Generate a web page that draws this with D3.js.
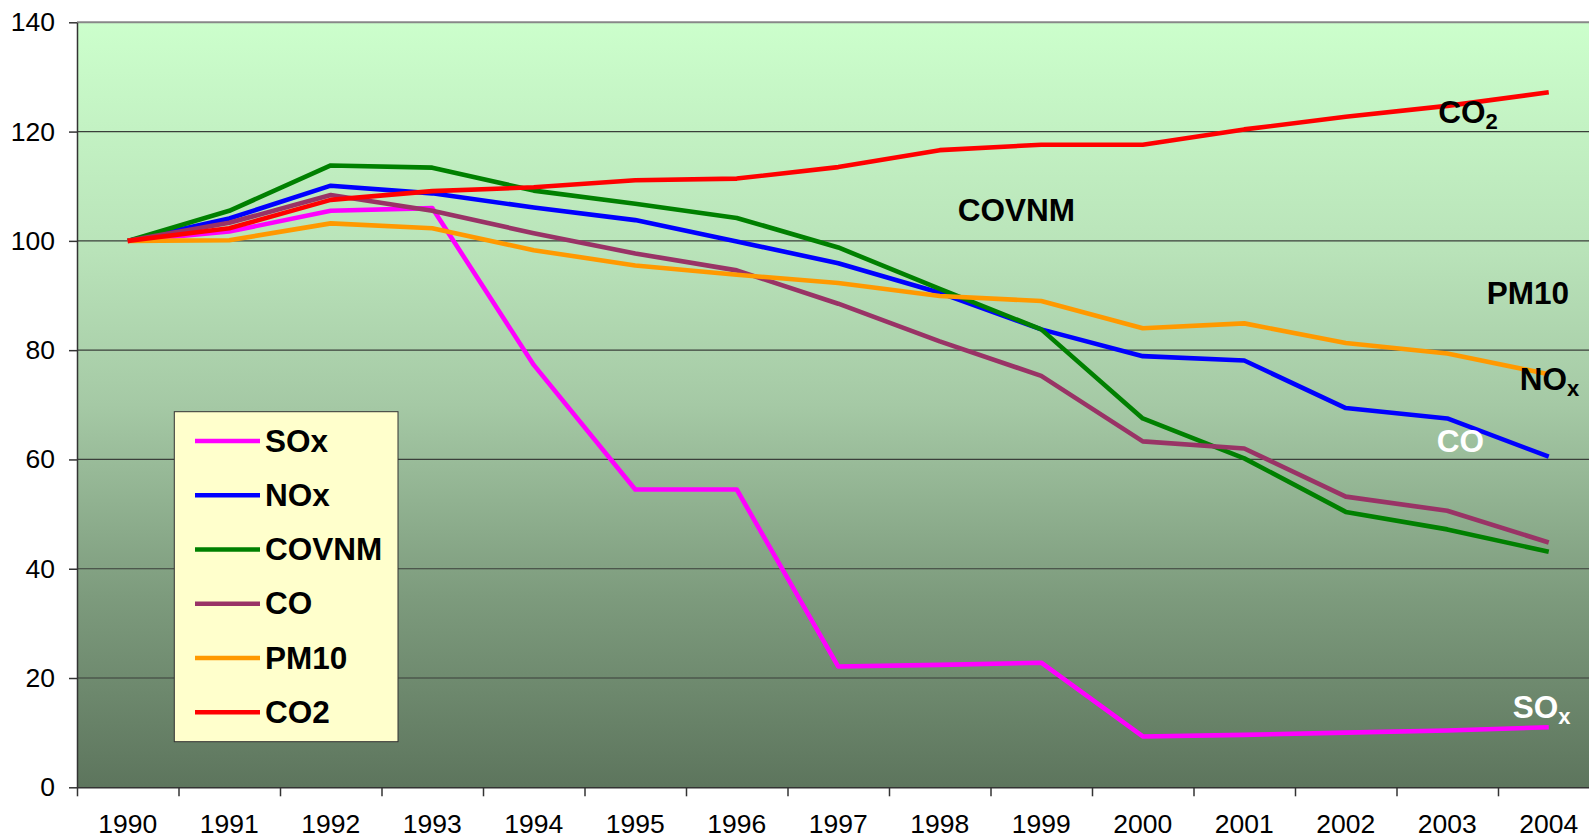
<!DOCTYPE html>
<html>
<head>
<meta charset="utf-8">
<script src="https://cdn.jsdelivr.net/npm/d3@7"></script>
<style>
  html, body { margin: 0; padding: 0; background: #ffffff; }
  svg { display: block; }
  text { font-family: "Liberation Sans", Arial, sans-serif; }
</style>
</head>
<body>
<svg id="chart" width="1589" height="840"></svg>
<script>
// ---- data ----
const years = ["1990","1991","1992","1993","1994","1995","1996","1997","1998","1999","2000","2001","2002","2003","2004"];
const seriesNames = ["SOx","NOx","COVNM","CO","PM10","CO2"];
const seriesColors = ["#ff00ff","#0000ff","#008000","#993366","#ff9900","#ff0000"];
const SOx   = [100, 101.7, 105.5, 106.0, 77.3, 54.5, 54.5, 22.1, 22.4, 22.8, 9.3, 9.6, 10.0, 10.4, 11.0];
const NOx   = [100, 104.1, 110.1, 108.7, 106.1, 103.8, 99.9, 95.9, 90.5, 83.8, 78.9, 78.1, 69.4, 67.5, 60.5];
const COVNM = [100, 105.5, 113.8, 113.4, 109.2, 106.8, 104.2, 98.8, 91.2, 83.8, 67.5, 60.2, 50.4, 47.2, 43.1];
const CO    = [100, 103.3, 108.4, 105.5, 101.4, 97.7, 94.6, 88.5, 81.6, 75.3, 63.3, 62.0, 53.2, 50.6, 44.8];
const PM10  = [100, 100.1, 103.2, 102.3, 98.3, 95.5, 93.8, 92.3, 89.9, 89.0, 84.0, 84.9, 81.3, 79.4, 75.6];
const CO2   = [100, 102.3, 107.5, 109.1, 109.8, 111.1, 111.4, 113.5, 116.6, 117.6, 117.6, 120.4, 122.7, 124.7, 127.2];
const seriesValues = [SOx, NOx, COVNM, CO, PM10, CO2];
const yTicks = [0, 20, 40, 60, 80, 100, 120, 140];

// in-plot labels
const annotations = [
  {text: "CO", sub: "2", year: "2003", value: 121.5, color: "#000000"},
  {text: "COVNM", sub: "", year: "1998", value: 103.7, color: "#000000"},
  {text: "PM10", sub: "", year: "2004", value: 88.4, color: "#000000"},
  {text: "NO", sub: "x", year: "2004", value: 72.8, color: "#000000"},
  {text: "CO", sub: "", year: "2003", value: 61.4, color: "#ffffff"},
  {text: "SO", sub: "x", year: "2004", value: 12.6, color: "#ffffff"}
];
const annotationDx = [-9, 18, -62, -29, -10.5, -36];

// ---- layout ----
const padL = 77, padT = 22.3, padB = 787.3, band = 101.5;
const padR = padL + band * years.length;
const svg = d3.select("#chart");

const x = d3.scaleBand().domain(years).range([padL, padR]).padding(0);
const xc = d => x(d) + x.bandwidth() / 2;
const y = d3.scaleLinear().domain([0, 140]).range([padB, padT]);

// background gradient
const defs = svg.append("defs");
const grad = defs.append("linearGradient").attr("id", "bg").attr("x1", 0).attr("y1", 0).attr("x2", 0).attr("y2", 1);
[[0, "#ccffcc"], [0.3, "#b9e3b9"], [0.5, "#a5c9a5"], [0.75, "#7d9b7d"], [1, "#5d755d"]].forEach(s =>
  grad.append("stop").attr("offset", s[0]).attr("stop-color", s[1]));

svg.append("rect").attr("x", padL).attr("y", padT).attr("width", padR - padL).attr("height", padB - padT)
  .attr("fill", "url(#bg)");

// gridlines
svg.append("g").selectAll("line").data(yTicks.filter(v => v > 0 && v < 140)).join("line")
  .attr("x1", padL).attr("x2", padR).attr("y1", d => y(d)).attr("y2", d => y(d))
  .attr("stroke", "#3a3f3a").attr("stroke-width", 1.2);
// top border
svg.append("line").attr("x1", padL).attr("x2", padR).attr("y1", y(140)).attr("y2", y(140))
  .attr("stroke", "#888888").attr("stroke-width", 2);

// lines
const line = d3.line().x((d, i) => xc(years[i])).y(d => y(d));
svg.append("g").selectAll("path").data(seriesValues).join("path")
  .attr("d", d => line(d)).attr("fill", "none")
  .attr("stroke", (d, i) => seriesColors[i]).attr("stroke-width", 4.6)
  .attr("stroke-linejoin", "round");

// axes
const yAxis = svg.append("g").attr("transform", `translate(${padL},0)`)
  .call(d3.axisLeft(y).tickValues(yTicks).tickSize(8).tickSizeOuter(0).tickPadding(14));
yAxis.select(".domain").attr("stroke", "#333").attr("stroke-width", 1.5);
yAxis.selectAll(".tick line").attr("stroke", "#333").attr("stroke-width", 1.5);
yAxis.selectAll("text").attr("font-size", 26.5).attr("fill", "#000")
  .attr("font-family", "'Liberation Sans', Arial, sans-serif");

const xIdx = d3.scaleLinear().domain([0, years.length]).range([padL, padR]);
const xTickAxis = svg.append("g").attr("transform", `translate(0,${padB})`)
  .call(d3.axisBottom(xIdx).tickValues(d3.range(years.length + 1)).tickFormat("").tickSize(9).tickSizeOuter(0));
xTickAxis.select(".domain").attr("stroke", "#333").attr("stroke-width", 1.5);
xTickAxis.selectAll(".tick line").attr("stroke", "#333").attr("stroke-width", 1.5);

const xAxis = svg.append("g").attr("transform", `translate(0,${padB})`)
  .call(d3.axisBottom(x).tickSize(0).tickPadding(27));
xAxis.select(".domain").remove();
xAxis.selectAll("text").attr("font-size", 26.5).attr("fill", "#000")
  .attr("font-family", "'Liberation Sans', Arial, sans-serif");

// legend
const lg = svg.append("g");
lg.append("rect").attr("x", 174.3).attr("y", 411.7).attr("width", 223.7).attr("height", 330)
  .attr("fill", "#ffffcc").attr("stroke", "#333").attr("stroke-width", 1);
const items = lg.selectAll("g.item").data(seriesNames).join("g").attr("class", "item")
  .attr("transform", (d, i) => `translate(0,${441 + i * 54.25})`);
items.append("line").attr("x1", 195).attr("x2", 260).attr("y1", 0).attr("y2", 0)
  .attr("stroke", (d, i) => seriesColors[i]).attr("stroke-width", 4.6);
items.append("text").attr("x", 265).attr("y", 10.5).text(d => d)
  .attr("font-size", 31.5).attr("font-weight", "bold").attr("fill", "#000");

// annotations
const ann = svg.append("g").selectAll("text").data(annotations).join("text")
  .attr("x", (d, i) => xc(d.year) + annotationDx[i])
  .attr("y", d => y(d.value))
  .attr("font-size", 31.5).attr("font-weight", "bold").attr("fill", d => d.color);
ann.append("tspan").text(d => d.text);
ann.filter(d => d.sub).append("tspan").text(d => d.sub).attr("font-size", 22).attr("dy", 6);
</script>
</body>
</html>
